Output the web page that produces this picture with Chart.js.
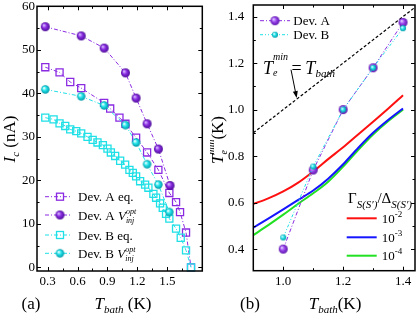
<!DOCTYPE html>
<html>
<head>
<meta charset="utf-8">
<script src="https://cdn.jsdelivr.net/npm/chart.js@4.4.1/dist/chart.umd.min.js"></script>
<style>
html, body { margin: 0; padding: 0; background: #fff; }
#wrap { position: relative; width: 420px; height: 317px; }
canvas { position: absolute; top: 0; }
#ca { left: 0; }
#cb { left: 210px; }
</style>
</head>
<body>
<div id="wrap">
  <canvas id="ca" width="210" height="317"></canvas>
  <canvas id="cb" width="210" height="317"></canvas>
</div>
<script>
const SERIF = '"Liberation Serif", "Times New Roman", Times, serif';
const PURPLE = '#8a2be2';
const CYAN = '#1fe0e6';

// (a) critical current vs bath temperature
const aEqTA = [0.277, 0.42, 0.527, 0.637, 0.867, 0.927, 1.02, 1.08, 1.187, 1.297, 1.41, 1.52, 1.587, 1.627, 1.687, 1.737];
const aEqIA = [46.0, 44.8, 42.6, 41.2, 37.8, 36.5, 34.4, 33.0, 29.8, 26.4, 22.4, 17.1, 15.0, 12.7, 8.0, 0];
const aOptTA = [0.277, 0.637, 0.867, 1.08, 1.187, 1.297, 1.41, 1.527];
const aOptIA = [55.3, 53.2, 50.4, 44.7, 38.9, 33.0, 27.2, 18.8];
const aEqTB = [0.277, 0.36, 0.42, 0.477, 0.527, 0.587, 0.637, 0.70, 0.752, 0.80, 0.854, 0.90, 0.934, 0.977, 1.027, 1.077,
  1.12, 1.154, 1.187, 1.227, 1.277, 1.31, 1.36, 1.387, 1.427, 1.454, 1.487, 1.52, 1.587, 1.634, 1.687, 1.737];
const aEqIB = [34.4, 34.0, 33.1, 32.5, 31.7, 31.3, 30.8, 30.0, 29.3, 28.7, 28.1, 27.3, 26.4, 25.6, 24.5, 23.6,
  22.4, 21.7, 20.9, 19.8, 19.0, 18.3, 16.9, 16.0, 14.7, 13.7, 12.3, 11.2, 8.9, 6.8, 3.9, 0];
const aOptTB = [0.277, 0.637, 0.867, 1.08, 1.187, 1.297, 1.41, 1.52];
const aOptIB = [40.9, 39.3, 37.2, 32.7, 28.7, 23.7, 19.0, 12.7];
const aXTicks = [0.3, 0.6, 0.9, 1.2, 1.5];
const aYTicks = [0, 10, 20, 30, 40, 50, 60];

// (b) minimum electron temperature
const bT = [1.0, 1.1, 1.2, 1.3, 1.4];
const bDevA = [0.40, 0.74, 1.0, 1.18, 1.375];
const bDevB = [0.45, 0.755, 1.0, 1.18, 1.35];
const bCurveT = [0.9, 0.95, 1.0, 1.05, 1.1, 1.15, 1.2, 1.25, 1.3, 1.35, 1.4];
const bGam2 = [0.594, 0.618, 0.648, 0.686, 0.734, 0.787, 0.838, 0.893, 0.948, 1.004, 1.062];
const bGam3 = [0.492, 0.531, 0.571, 0.612, 0.652, 0.703, 0.765, 0.835, 0.9, 0.955, 1.005];
const bGam4 = [0.46, 0.503, 0.548, 0.595, 0.64, 0.69, 0.755, 0.826, 0.893, 0.95, 1.0];
const bDiag = [0.9, 1.44];
const bXTicks = [1.0, 1.2, 1.4];
const bYTicks = [0.4, 0.6, 0.8, 1.0, 1.2, 1.4];

const pts = (xs, ys) => xs.map((x, i) => ({ x: x, y: ys[i] }));

function sphere(r, light, mid, dark) {
  const c = document.createElement('canvas');
  const s = Math.ceil(2 * r + 2);
  c.width = c.height = s;
  const g = c.getContext('2d');
  const grd = g.createRadialGradient(s / 2 - r * 0.35, s / 2 - r * 0.35, r * 0.1, s / 2, s / 2, r);
  grd.addColorStop(0, light);
  grd.addColorStop(0.45, mid);
  grd.addColorStop(1, dark);
  g.fillStyle = grd;
  g.beginPath();
  g.arc(s / 2, s / 2, r, 0, Math.PI * 2);
  g.fill();
  return c;
}
const sphP = sphere(4.5, '#d6b8ff', '#8a2be2', '#4b0c96');
const sphC = sphere(4.2, '#eaffff', '#22e4ea', '#0097a6');
const sphPb = sphere(4.5, '#e2cdff', '#9a45ee', '#5a14a8');
const sphCb = sphere(3, '#eaffff', '#22e4ea', '#0097a6');

function font(s, i) { return (i ? 'italic ' : '') + s + 'px ' + SERIF; }
function measure(ctx, parts) {
  let w = 0;
  for (const p of parts) {
    let m = 0;
    for (const q of (p.stack || [p])) { ctx.font = font(q.s, q.i); m = Math.max(m, ctx.measureText(q.t).width); }
    w += m;
  }
  return w;
}
function rich(ctx, x, y, parts, align) {
  let cx = align === 'center' ? x - measure(ctx, parts) / 2 : x;
  ctx.textAlign = 'left';
  ctx.textBaseline = 'alphabetic';
  ctx.fillStyle = '#000';
  for (const p of parts) {
    let m = 0;
    for (const q of (p.stack || [p])) {
      ctx.font = font(q.s, q.i);
      ctx.fillText(q.t, cx, y + (q.dy || 0));
      m = Math.max(m, ctx.measureText(q.t).width);
    }
    cx += m;
  }
}
function minors(ticks, lo, hi) {
  const st = (ticks[1] - ticks[0]) / 2;
  const out = [];
  for (let k = -20; k < 40; k++) {
    const v = ticks[0] + (2 * k + 1) * st;
    if (v > lo && v < hi) out.push(v);
  }
  return out;
}

function frame(chart, xt, yt) {
  const { ctx, chartArea: a, scales: { x, y } } = chart;
  const xm = minors(xt, x.min, x.max), ym = minors(yt, y.min, y.max);
  ctx.save();
  ctx.strokeStyle = '#000';
  ctx.lineWidth = 1;
  ctx.beginPath();
  for (const [v, L] of [...xt.map(v => [v, 4]), ...xm.map(v => [v, 2.5])]) {
    const p = Math.round(x.getPixelForValue(v)) + 0.5;
    ctx.moveTo(p, a.bottom); ctx.lineTo(p, a.bottom - L);
    ctx.moveTo(p, a.top); ctx.lineTo(p, a.top + L);
  }
  for (const [v, L] of [...yt.map(v => [v, 4]), ...ym.map(v => [v, 2.5])]) {
    const p = Math.round(y.getPixelForValue(v)) + 0.5;
    ctx.moveTo(a.left, p); ctx.lineTo(a.left + L, p);
    ctx.moveTo(a.right, p); ctx.lineTo(a.right - L, p);
  }
  ctx.stroke();
  ctx.lineWidth = 1.5;
  ctx.strokeRect(a.left, a.top, a.right - a.left, a.bottom - a.top);
  ctx.restore();
}

function legLine(ctx, x0, x1, y, color, dash, w) {
  ctx.save();
  ctx.strokeStyle = color;
  ctx.lineWidth = w;
  ctx.setLineDash(dash);
  ctx.beginPath();
  ctx.moveTo(x0, y); ctx.lineTo(x1, y);
  ctx.stroke();
  ctx.restore();
}
function legSquare(ctx, x, y, color) {
  ctx.save();
  ctx.strokeStyle = color;
  ctx.lineWidth = 1.3;
  ctx.strokeRect(x - 3.5, y - 3.5, 7, 7);
  ctx.restore();
}
function legImg(ctx, img, x, y) { ctx.drawImage(img, x - img.width / 2, y - img.height / 2); }

function axisCfg(min, max, ticks, fmt, size, pad, extra) {
  return Object.assign({
    type: 'linear', min: min, max: max,
    grid: { display: false, drawTicks: false },
    border: { display: false },
    ticks: { color: '#000', font: { family: SERIF, size: 13 }, padding: pad, autoSkip: false, maxRotation: 0, callback: fmt },
    afterBuildTicks: s => { s.ticks = ticks.map(v => ({ value: v })); }
  }, extra);
}

const DASH = [4, 2, 1, 2];

// panel (a)
new Chart(document.getElementById('ca'), {
  type: 'scatter',
  data: {
    datasets: [
      { data: pts(aOptTA, aOptIA), showLine: true, borderColor: PURPLE, borderWidth: 1, borderDash: DASH, pointStyle: sphP, clip: 6 },
      { data: pts(aOptTB, aOptIB), showLine: true, borderColor: CYAN, borderWidth: 1, borderDash: DASH, pointStyle: sphC, clip: 6 },
      { data: pts(aEqTB, aEqIB), showLine: true, borderColor: CYAN, borderWidth: 1, borderDash: DASH, pointStyle: 'rect', pointRadius: 5,
        pointBorderColor: CYAN, pointBackgroundColor: 'rgba(255,255,255,0)', pointBorderWidth: 1.3, clip: 6 },
      { data: pts(aEqTA, aEqIA), showLine: true, borderColor: PURPLE, borderWidth: 1, borderDash: DASH, pointStyle: 'rect', pointRadius: 5,
        pointBorderColor: PURPLE, pointBackgroundColor: 'rgba(255,255,255,0)', pointBorderWidth: 1.3, clip: 6 }
    ]
  },
  options: {
    responsive: false, animation: false, devicePixelRatio: 1, events: [],
    layout: { padding: { left: 0, right: 7.7, top: 5, bottom: 0 } },
    plugins: { legend: { display: false }, tooltip: { enabled: false } },
    scales: {
      x: axisCfg(0.194, 1.85, aXTicks, v => v.toFixed(1), 13, 3, { afterFit: s => { s.height = 46; s.paddingLeft = 0; s.paddingRight = 0; } }),
      y: axisCfg(-0.84, 60, aYTicks, v => String(v), 13, 2, { afterFit: s => { s.width = 37; s.paddingTop = 0; s.paddingBottom = 0; } })
    }
  },
  plugins: [{
    id: 'decorA',
    afterDraw(chart) {
      const ctx = chart.ctx;
      frame(chart, aXTicks, aYTicks);
      const rows = [
        { y: 196.7, c: PURPLE, sq: true, t: [{ t: 'Dev. A eq.', s: 13 }] },
        { y: 215, c: PURPLE, img: sphP, t: [{ t: 'Dev. A ', s: 13 }, { t: 'V', s: 13, i: true },
          { stack: [{ t: 'opt', s: 8, i: true, dy: -6 }, { t: 'inj', s: 8, i: true, dy: 3 }] }] },
        { y: 235, c: CYAN, sq: true, t: [{ t: 'Dev. B eq.', s: 13 }] },
        { y: 253.3, c: CYAN, img: sphC, t: [{ t: 'Dev. B ', s: 13 }, { t: 'V', s: 13, i: true },
          { stack: [{ t: 'opt', s: 8, i: true, dy: -6 }, { t: 'inj', s: 8, i: true, dy: 3 }] }] }
      ];
      for (const r of rows) {
        legLine(ctx, 45, 72, r.y, r.c, DASH, 1);
        if (r.sq) legSquare(ctx, 60, r.y, r.c); else legImg(ctx, r.img, 60, r.y);
        rich(ctx, 78, r.y + 4.5, r.t);
      }
      rich(ctx, 21.5, 309, [{ t: '(a)', s: 17 }]);
      rich(ctx, 123, 309, [{ t: 'T', s: 17, i: true }, { t: 'bath', s: 11, i: true, dy: 4 }, { t: ' (K)', s: 17 }], 'center');
      ctx.save();
      ctx.translate(15, 139);
      ctx.rotate(-Math.PI / 2);
      rich(ctx, 0, 0, [{ t: 'I', s: 17, i: true }, { t: 'c', s: 11, i: true, dy: 4 }, { t: ' (nA)', s: 17 }], 'center');
      ctx.restore();
    }
  }]
});

// panel (b)
new Chart(document.getElementById('cb'), {
  type: 'scatter',
  data: {
    datasets: [
      { data: pts(bT, bDevB), showLine: true, borderColor: CYAN, borderWidth: 1, borderDash: [3, 2, 1, 2, 1, 2], pointStyle: sphCb, clip: 6 },
      { data: pts(bT, bDevA), showLine: true, borderColor: PURPLE, borderWidth: 1, borderDash: DASH, pointStyle: sphPb, clip: 6 },
      { data: pts(bCurveT, bGam2), showLine: true, borderColor: '#ff1010', borderWidth: 2, pointRadius: 0, cubicInterpolationMode: 'monotone', clip: 0 },
      { data: pts(bCurveT, bGam3), showLine: true, borderColor: '#1515ff', borderWidth: 2, pointRadius: 0, cubicInterpolationMode: 'monotone', clip: 0 },
      { data: pts(bCurveT, bGam4), showLine: true, borderColor: '#22e022', borderWidth: 2, pointRadius: 0, cubicInterpolationMode: 'monotone', clip: 0 },
      { data: pts(bDiag, bDiag), showLine: true, borderColor: '#000', borderWidth: 1.2, borderDash: [3, 2], pointRadius: 0, clip: 0 }
    ]
  },
  options: {
    responsive: false, animation: false, devicePixelRatio: 1, events: [],
    layout: { padding: { left: 0, right: 4, top: 5, bottom: 0 } },
    plugins: { legend: { display: false }, tooltip: { enabled: false } },
    scales: {
      x: axisCfg(0.9, 1.44, bXTicks, v => v.toFixed(1), 13, 3, { afterFit: s => { s.height = 46.3; s.paddingLeft = 0; s.paddingRight = 0; } }),
      y: axisCfg(0.307, 1.45, bYTicks, v => v.toFixed(1), 13, 9, { afterFit: s => { s.width = 43.3; s.paddingTop = 0; s.paddingBottom = 0; } })
    }
  },
  plugins: [{
    id: 'decorB',
    afterDraw(chart) {
      const ctx = chart.ctx;
      frame(chart, bXTicks, bYTicks);
      legLine(ctx, 50, 80, 20.7, PURPLE, DASH, 1);
      legImg(ctx, sphPb, 65, 20.7);
      rich(ctx, 83.3, 25.2, [{ t: 'Dev. A', s: 13 }]);
      legLine(ctx, 50, 80, 34.7, CYAN, [3, 2, 1, 2, 1, 2], 1);
      legImg(ctx, sphCb, 65, 34.7);
      rich(ctx, 83.3, 39.2, [{ t: 'Dev. B', s: 13 }]);

      rich(ctx, 53, 74, [{ t: 'T', s: 18, i: true },
        { stack: [{ t: 'min', s: 10, i: true, dy: -14 }, { t: 'e', s: 10, i: true, dy: 2 }] },
        { t: '\u2009=\u2009', s: 18 }, { t: 'T', s: 18, i: true }, { t: 'bath', s: 11, i: true, dy: 3 }]);
      // arrow
      ctx.save();
      ctx.strokeStyle = '#000'; ctx.fillStyle = '#000'; ctx.lineWidth = 1;
      const x0 = 81, y0 = 69.7, x1 = 86.7, y1 = 98;
      const ang = Math.atan2(y1 - y0, x1 - x0);
      ctx.beginPath(); ctx.moveTo(x0, y0); ctx.lineTo(x1 - 5 * Math.cos(ang), y1 - 5 * Math.sin(ang)); ctx.stroke();
      ctx.beginPath();
      ctx.moveTo(x1, y1);
      ctx.lineTo(x1 - 7 * Math.cos(ang) + 2.5 * Math.sin(ang), y1 - 7 * Math.sin(ang) - 2.5 * Math.cos(ang));
      ctx.lineTo(x1 - 7 * Math.cos(ang) - 2.5 * Math.sin(ang), y1 - 7 * Math.sin(ang) + 2.5 * Math.cos(ang));
      ctx.closePath(); ctx.fill();
      ctx.restore();

      rich(ctx, 138, 203, [{ t: 'Γ', s: 15 }, { t: 'S(S′)', s: 11, i: true, dy: 5 }, { t: '/', s: 15 },
        { t: 'Δ', s: 15 }, { t: 'S(S′)', s: 11, i: true, dy: 5 }]);
      const g = [['#ff1010', 218.3, '-2'], ['#1515ff', 237.3, '-3'], ['#22e022', 255.7, '-4']];
      for (const [c, y, e] of g) {
        legLine(ctx, 136.7, 166.7, y, c, [], 2);
        rich(ctx, 171.7, y + 4.3, [{ t: '10', s: 13 }, { t: e, s: 9, dy: -6 }]);
      }

      rich(ctx, 30, 309, [{ t: '(b)', s: 17 }]);
      rich(ctx, 125, 309, [{ t: 'T', s: 17, i: true }, { t: 'bath', s: 11, i: true, dy: 4 }, { t: '(K)', s: 17 }], 'center');
      ctx.save();
      ctx.translate(12.5, 140);
      ctx.rotate(-Math.PI / 2);
      rich(ctx, 0, 0, [{ t: 'T', s: 17, i: true },
        { stack: [{ t: 'min', s: 10, i: true, dy: -9 }, { t: 'e', s: 10, i: true, dy: 4 }] }, { t: '(K)', s: 17 }], 'center');
      ctx.restore();
    }
  }]
});
</script>
</body>
</html>
